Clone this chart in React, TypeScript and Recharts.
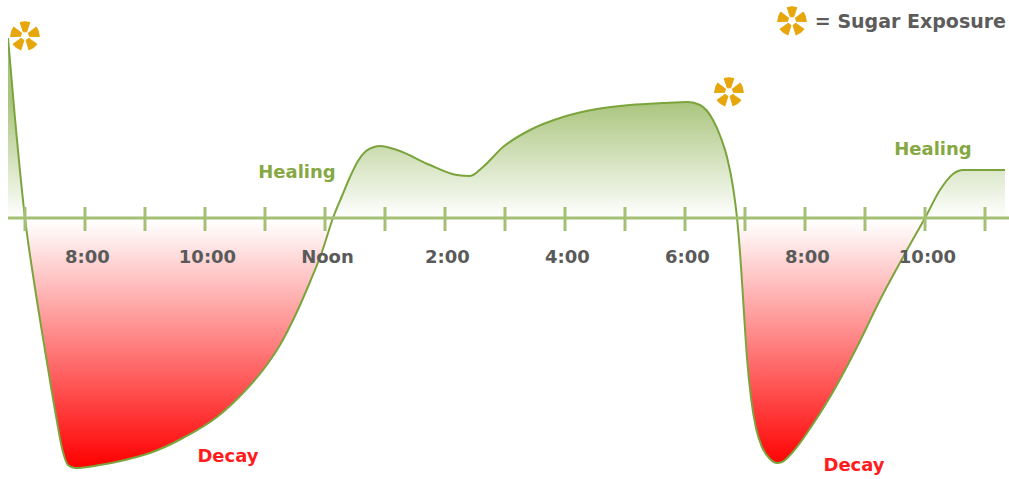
import React from "react"
import { ComposedChart, Area, XAxis, YAxis, ReferenceLine, Scatter } from "recharts"

// hours of the day (7 = 7am) and the enamel balance
const curveHours = [
  6.717, 6.833, 7.0, 7.167, 7.333, 7.5, 7.633, 7.717, 7.833, 8.25, 8.667, 9.083, 9.633, 10.2, 10.633,
  10.967, 11.25, 11.5, 11.75, 11.95, 12.133, 12.283, 12.417, 12.55, 12.683, 12.817, 12.917, 13.2, 13.75,
  14.2, 14.417, 14.633, 14.967, 15.417, 15.967, 16.533, 17.083, 17.633, 18.05, 18.25, 18.467, 18.6, 18.7,
  18.8, 18.867, 18.933, 18.983, 19.033, 19.1, 19.183, 19.283, 19.417, 19.533, 19.617, 19.783, 19.917,
  20.033, 20.417, 20.867, 21.25, 21.7, 22.0, 22.25, 22.467, 22.633, 23.333,
]
const curveValues = [
  180, 100, 0, -70, -132, -192, -234, -247, -250, -247, -242, -235, -220, -199, -175,
  -152, -127, -98, -64, -34, 0, 22, 41, 57, 67, 71, 72, 68, 53,
  43, 42, 51, 71, 88, 101, 109, 113, 115, 116, 113, 98, 80, 61,
  31, 0, -48, -95, -140, -180, -210, -229, -241, -245, -244, -235, -225,
  -215, -179, -129, -82, -32, 0, 28, 44, 48, 48,
]

const tickHours = [7, 8, 9, 10, 11, 12, 13, 14, 15, 16, 17, 18, 19, 20, 21, 22, 23]
const labelHours = [8, 10, 12, 14, 16, 18, 20, 22]
const labelTexts = ["8:00", "10:00", "Noon", "2:00", "4:00", "6:00", "8:00", "10:00"]

const sugarHours = [7.0, 18.733]
const sugarValues = [182, 126]

const noteTexts = ["Healing", "Healing", "Decay", "Decay"]
const noteHours = [11.533, 22.133, 10.383, 20.817]
const noteValues = [46, 69, -238, -247]

const curve = curveHours.map((h, i) => ({ h, v: curveValues[i] }))
const hourLabels = labelHours.map((h, i) => ({ h, v: -39, label: labelTexts[i] }))
const sugar = sugarHours.map((h, i) => ({ h, v: sugarValues[i] }))
const notes = noteHours.map((h, i) => ({ h, v: noteValues[i], label: noteTexts[i] }))

const FONT = "'DejaVu Sans', Verdana, sans-serif"
const GREEN = "#7ba43c"
const AXIS = "#a4c074"
const GOLD = "#e6a60c"

function Asterisk({ cx, cy }: { cx: number; cy: number }) {
  const petals = [0, 72, 144, 216, 288]
  return (
    <g transform={`translate(${cx},${cy})`}>
      {petals.map((deg) => (
        <path
          key={deg}
          d="M-1.7,-4.2 L1.7,-4.2 L4.8,-13.5 Q0,-15 -4.8,-13.5 Z"
          fill={GOLD}
          stroke={GOLD}
          strokeWidth={1}
          strokeLinejoin="round"
          transform={`rotate(${deg})`}
        />
      ))}
    </g>
  )
}

function SugarLegend() {
  return (
    <div
      style={{
        position: "absolute",
        top: 5,
        right: 3,
        display: "flex",
        alignItems: "center",
        fontFamily: FONT,
      }}
    >
      <svg width={32} height={32}>
        <Asterisk cx={16} cy={16} />
      </svg>
      <span style={{ fontSize: 19, fontWeight: "bold", color: "#5c5c5c", marginLeft: 7 }}>= Sugar Exposure</span>
    </div>
  )
}

export default function App() {
  return (
    <div style={{ position: "absolute", left: 0, top: 0, width: 1009, height: 479, background: "#fff" }}>
      <ComposedChart width={1009} height={479} data={curve} margin={{ top: 0, right: 0, bottom: 0, left: 8 }}>
        <defs>
          <linearGradient id="balanceGradient" gradientUnits="userSpaceOnUse" x1="0" y1="0" x2="0" y2="479">
            <stop offset={0.209} stopColor="#a9c47c" />
            <stop offset={0.455} stopColor="#ffffff" />
            <stop offset={0.462} stopColor="#ffffff" />
            <stop offset={0.975} stopColor="#ff0000" />
          </linearGradient>
        </defs>
        <XAxis dataKey="h" type="number" domain={[6.717, 23.4]} allowDataOverflow hide />
        <YAxis type="number" domain={[-261, 218]} allowDataOverflow hide />
        <Area
          type="monotone"
          dataKey="v"
          baseValue={0}
          stroke={GREEN}
          strokeWidth={2}
          fill="url(#balanceGradient)"
          fillOpacity={1}
          dot={false}
          activeDot={false}
          isAnimationActive={false}
        />
        <ReferenceLine y={0} stroke={AXIS} strokeWidth={3} />
        {tickHours.map((h) => (
          <ReferenceLine
            key={h}
            segment={[
              { x: h, y: 11 },
              { x: h, y: -13 },
            ]}
            stroke={AXIS}
            strokeWidth={3}
          />
        ))}
        <Scatter
          data={hourLabels}
          dataKey="v"
          isAnimationActive={false}
          shape={(p: any) => (
            <text
              x={p.cx + 2.5}
              y={p.cy}
              dy="0.35em"
              textAnchor="middle"
              fontFamily={FONT}
              fontWeight="bold"
              fontSize={18}
              fill="#5a5a5a"
            >
              {p.payload.label}
            </text>
          )}
        />
        <Scatter
          data={notes}
          dataKey="v"
          isAnimationActive={false}
          shape={(p: any) => (
            <text
              x={p.cx}
              y={p.cy}
              dy="0.35em"
              textAnchor="middle"
              fontFamily={FONT}
              fontWeight="bold"
              fontSize={18}
              fill={p.payload.label === "Decay" ? "#ff1c1c" : "#86a842"}
            >
              {p.payload.label}
            </text>
          )}
        />
        <Scatter
          data={sugar}
          dataKey="v"
          isAnimationActive={false}
          shape={(p: any) => <Asterisk cx={p.cx} cy={p.cy} />}
        />
      </ComposedChart>
      <SugarLegend />
    </div>
  )
}
